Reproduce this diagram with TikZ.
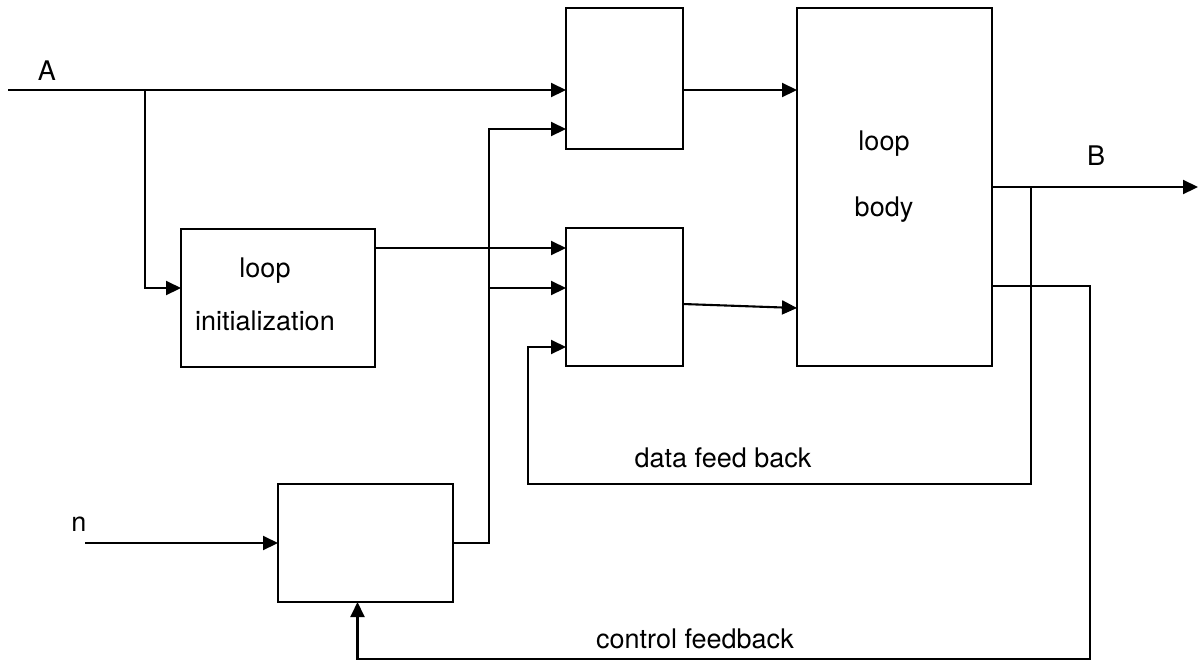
\documentclass[tikz,border=0pt]{standalone}
\usepackage{fontspec}
\setmainfont{TeX Gyre Heros}
\usetikzlibrary{arrows.meta,positioning,calc}

\begin{document}
\begin{tikzpicture}[
    x=1pt, y=-1pt,
    block/.style={rectangle, draw, line width=2.3pt, inner sep=0pt, outer sep=0pt},
    arrow/.style={-{Triangle[length=15pt,width=14pt]}, line width=2.1pt},
    lbl/.style={inner sep=0pt, font=\fontsize{27}{32}\selectfont}
]
\useasboundingbox (0,0) rectangle (1198,665);

% Blocks
\node[block, minimum width=117pt, minimum height=141pt] (gateA) at (624.5, 78.5) {};
\node[block, minimum width=117pt, minimum height=138pt] (gateB) at (624.5, 297) {};
\node[block, line width=2.9pt, minimum width=195pt, minimum height=358pt] (body) at (894.5, 187) {};
\node[block, minimum width=194pt, minimum height=138pt] (init) at (278, 298) {};
\node[block, minimum width=175pt, minimum height=118pt] (count) at (365.5, 543) {};

% Texts
\node[lbl, align=center, font=\fontsize{27}{53}\selectfont] (initText) at (265, 294) {loop\\initialization};
\node[lbl, align=center, font=\fontsize{27}{66}\selectfont] (bodyText) at (884, 177) {loop\\body};
\node[lbl] (labA) at (47, 71) {A};
\node[lbl] (labB) at (1096, 156) {B};
\node[lbl] (labN) at (79, 524) {n};
\node[lbl] (dataFb) at (723, 458) {data feed back};
\node[lbl] (ctrlFb) at (695, 639) {control feedback};

% Inputs
\coordinate (aIn) at (8, 90);
\coordinate (aSplit) at (145, 90);
\coordinate (nIn) at (85, 543);
\draw[arrow] (aIn) -- (aIn -| gateA.west);
\draw[arrow] (aSplit) |- ([yshift=10pt]init.west);
\draw[arrow] (nIn) -- (count.west);

% Initialization and counter into the gates
\coordinate (ctrlUp) at (489, 129);
\coordinate (ctrlTap) at (489, 288);
\draw[arrow] ([yshift=50pt]init.east) -- ([yshift=50pt]init.east -| gateB.west);
\draw[arrow] (count.east) -| (ctrlUp) -- (ctrlUp -| gateA.west);
\draw[arrow] (ctrlTap) -- (ctrlTap -| gateB.west);

% Gates into loop body
\draw[arrow] (gateA.east |- aIn) -- (body.west |- aIn);
\draw[arrow] ([yshift=-7pt]gateB.east) -- ([yshift=-11pt]gateB.east -| body.west);

% Output B
\coordinate (bOut) at (1198, 187);
\draw[arrow] (body.east) -- (bOut);

% Feedback paths
\coordinate (dTap) at (1031, 187);
\coordinate (dCorner) at (528, 484);
\coordinate (cCorner) at (1090, 659);
\draw[arrow] (dTap) |- (dCorner) |- ([yshift=-50pt]gateB.west);
\draw[arrow] ([yshift=-99pt]body.east) -| (cCorner) -| ([xshift=-8pt]count.south);

\end{tikzpicture}
\end{document}
